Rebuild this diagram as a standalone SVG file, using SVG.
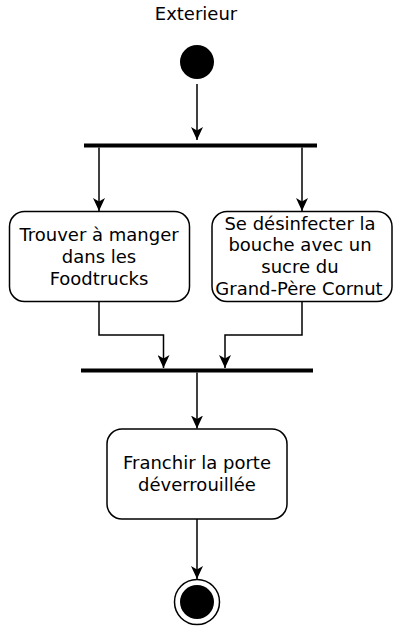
<svg xmlns="http://www.w3.org/2000/svg" width="409" height="641" viewBox="0 0 409 641">
<style>
.lbl{font-family:"DejaVu Sans",Verdana,sans-serif;font-size:18px;fill:#000;text-anchor:middle}
.box{fill:#fff;stroke:#000;stroke-width:1.5}
.edge{fill:none;stroke:#000;stroke-width:1.5}
.bar{fill:#000}
</style>
<defs>
<marker id="arr" viewBox="0 0 13 12" refX="13" refY="6" markerWidth="13" markerHeight="12" markerUnits="userSpaceOnUse" orient="auto">
<path d="M0,0 L13,6 L0,12 L3.5,6 Z" fill="#000"/>
</marker>
</defs>
<rect width="409" height="641" fill="#fff"/>
<text class="lbl" x="196" y="20">Exterieur</text>
<g id="start"><circle cx="197" cy="62" r="17" fill="#000"/></g>
<g id="fork"><rect class="bar" x="84" y="143.5" width="233" height="4"/></g>
<g id="act1"><rect class="box" x="9.5" y="211.5" width="180" height="90" rx="15" ry="15"/>
<text class="lbl" x="99" y="241">Trouver à manger</text>
<text class="lbl" x="99" y="263">dans les</text>
<text class="lbl" x="99" y="285">Foodtrucks</text></g>
<g id="act2"><rect class="box" x="212" y="211.5" width="180" height="90" rx="15" ry="15"/>
<text class="lbl" x="300" y="229.5">Se désinfecter la</text>
<text class="lbl" x="300" y="251">bouche avec un</text>
<text class="lbl" x="300" y="273">sucre du</text>
<text class="lbl" x="299" y="295">Grand-Père Cornut</text></g>
<g id="join"><rect class="bar" x="81" y="368.5" width="232" height="4"/></g>
<g id="act3"><rect class="box" x="107" y="429" width="180" height="90" rx="15" ry="15"/>
<text class="lbl" x="197" y="468.5">Franchir la porte</text>
<text class="lbl" x="197" y="490.5">déverrouillée</text></g>
<g id="end"><circle cx="197" cy="602" r="22.5" fill="#fff" stroke="#000" stroke-width="1.5"/>
<circle cx="197" cy="602" r="17" fill="#000"/></g>
<g id="connectors">
<path class="edge" d="M197,84 L197,140" marker-end="url(#arr)"/>
<path class="edge" d="M99,147.5 L99,211" marker-end="url(#arr)"/>
<path class="edge" d="M302,147.5 L302,211" marker-end="url(#arr)"/>
<path class="edge" d="M99,302 L99,335 L163.5,335 L163.5,368" marker-end="url(#arr)"/>
<path class="edge" d="M302,302 L302,335 L225,335 L225,368" marker-end="url(#arr)"/>
<path class="edge" d="M197,372.5 L197,428.5" marker-end="url(#arr)"/>
<path class="edge" d="M197,519 L197,579" marker-end="url(#arr)"/>
</g>
</svg>
